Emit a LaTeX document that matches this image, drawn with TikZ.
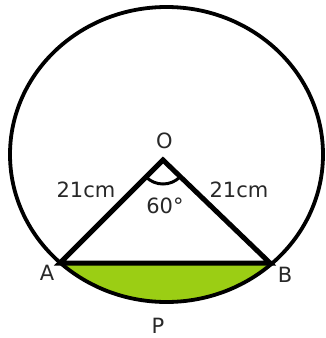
\documentclass[tikz,border=0pt]{standalone}
\usepackage{fontspec}
\setmainfont{DejaVu Sans}
\definecolor{segfill}{RGB}{155,206,20}
\definecolor{txt}{RGB}{40,40,40}
\tikzset{
  lbl/.style={anchor=base, inner sep=0pt, text=txt, font=\fontsize{21}{24}\selectfont},
  thick line/.style={line width=5pt, line join=miter},
  rim/.style={line width=3.8pt}
}
\begin{document}
\begin{tikzpicture}[x=1pt,y=-1pt]
\useasboundingbox[fill=white] (0,0) rectangle (326,338);
\coordinate (C) at (166.5,154.5);
\coordinate (O) at (163,160);
\coordinate (A) at (60,263);
\coordinate (B) at (270,263);
\begin{scope}
  \clip (C) ellipse [x radius=156.5, y radius=147.5];
  \fill[segfill] (0,263) rectangle (326,338);
\end{scope}
\draw[rim] (C) ellipse [x radius=156.5, y radius=147.5];
\draw[thick line] (A) -- (O) -- (B) -- cycle;
\draw[line width=3pt] (O) ++(45:24) arc [start angle=45, end angle=135, radius=24];
\node[lbl] (lO) at (164.5,148) {O};
\node[lbl] (l1) at (86,197) {21cm};
\node[lbl] (l2) at (239,197) {21cm};
\node[lbl] (lang) at (165,213) {60°};
\node[lbl] (lA) at (47,280) {A};
\node[lbl] (lB) at (285,282) {B};
\node[lbl] (lP) at (158,333) {P};
\end{tikzpicture}
\end{document}
